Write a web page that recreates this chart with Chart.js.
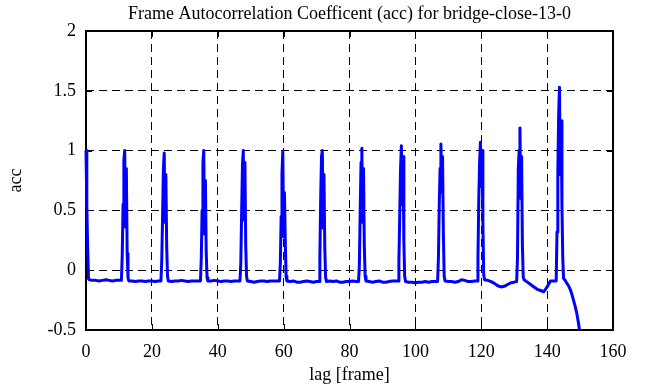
<!DOCTYPE html>
<html>
<head>
<meta charset="utf-8">
<script src="https://cdn.jsdelivr.net/npm/chart.js@4/dist/chart.umd.min.js"></script>
<style>
    html, body { margin: 0; padding: 0; background: #ffffff; }
    #wrap { width: 661px; height: 387px; }
</style>
</head>
<body>
<div id="wrap"><canvas id="acc-chart" width="661" height="387"></canvas></div>
<script>
// lag (frames) and autocorrelation, one row per 12-frame period
const lags = [
    0, 0.25, 0.5, 0.75, 1, 2, 3, 4, 5, 6, 7, 8, 9, 10,
    10.75, 11, 11.25, 11.5, 11.75, 12, 12.25, 12.5, 12.75, 13, 14, 15, 16, 17, 18, 19, 20, 21, 22,
    22.75, 23, 23.25, 23.5, 23.75, 24, 24.25, 24.5, 24.75, 25, 26, 27, 28, 29, 30, 31, 32, 33, 34,
    34.75, 35, 35.25, 35.5, 35.75, 36, 36.25, 36.5, 36.75, 37, 38, 39, 40, 41, 42, 43, 44, 45, 46,
    46.75, 47, 47.25, 47.5, 47.75, 48, 48.25, 48.5, 48.75, 49, 50, 51, 52, 53, 54, 55, 56, 57, 58,
    58.75, 59, 59.25, 59.5, 59.75, 60, 60.25, 60.5, 60.75, 61, 62, 63, 64, 65, 66, 67, 68, 69, 70,
    70.75, 71, 71.25, 71.5, 71.75, 72, 72.25, 72.5, 72.75, 73, 74, 75, 76, 77, 78, 79, 80, 81, 82,
    82.75, 83, 83.25, 83.5, 83.75, 84, 84.25, 84.5, 84.75, 85, 86, 87, 88, 89, 90, 91, 92, 93, 94,
    94.75, 95, 95.25, 95.5, 95.75, 96, 96.25, 96.5, 96.75, 97, 98, 99, 100, 101, 102, 103, 104, 105, 106,
    106.75, 107, 107.25, 107.5, 107.75, 108, 108.25, 108.5, 108.75, 109, 110, 111, 112, 113, 114, 115, 116, 117, 118,
    118.75, 119, 119.25, 119.5, 119.75, 120, 120.25, 120.5, 120.75, 121, 122, 123, 124, 125, 126, 127, 128, 129, 130,
    130.75, 131, 131.25, 131.5, 131.75, 132, 132.25, 132.5, 132.75, 133, 134, 135, 136, 137, 138, 139, 140, 141, 142,
    142.75, 143, 143.25, 143.5, 143.75, 144, 144.25, 144.5, 144.75, 145, 145.5, 146, 146.5, 147, 147.5, 148, 148.5, 149, 149.5, 150
];
const acc = [
    1.0, 0.55, 0.2, -0.07, -0.08, -0.085, -0.085, -0.09, -0.085, -0.08, -0.085, -0.09, -0.085, -0.085,
    -0.085, 0.12, 0.55, 0.92, 1.0, 0.36, 0.85, 0.14, -0.06, -0.09, -0.09, -0.095, -0.09, -0.09, -0.095, -0.09, -0.09, -0.095, -0.09,
    -0.09, 0.08, 0.45, 0.85, 0.98, 0.4, 0.8, 0.2, -0.05, -0.09, -0.095, -0.09, -0.09, -0.085, -0.09, -0.095, -0.09, -0.09, -0.09,
    -0.09, 0.1, 0.5, 0.9, 1.0, 0.3, 0.75, 0.15, -0.06, -0.09, -0.09, -0.085, -0.09, -0.095, -0.09, -0.09, -0.095, -0.09, -0.09,
    -0.09, 0.06, 0.48, 0.88, 1.0, 0.42, 0.9, 0.2, -0.05, -0.09, -0.095, -0.1, -0.095, -0.09, -0.09, -0.095, -0.09, -0.09, -0.09,
    -0.09, 0.06, 0.45, 0.81, 0.99, 0.28, 0.65, 0.25, -0.05, -0.09, -0.095, -0.09, -0.1, -0.1, -0.095, -0.09, -0.095, -0.1, -0.095,
    -0.095, 0.1, 0.6, 0.95, 1.0, 0.35, 0.8, 0.18, -0.06, -0.095, -0.09, -0.095, -0.09, -0.1, -0.1, -0.095, -0.095, -0.09, -0.095,
    -0.095, 0.05, 0.5, 0.9, 1.02, 0.4, 0.85, 0.2, -0.05, -0.09, -0.095, -0.1, -0.095, -0.09, -0.1, -0.1, -0.095, -0.09, -0.09,
    -0.09, 0.08, 0.45, 0.85, 1.04, 0.55, 0.95, 0.25, -0.05, -0.095, -0.1, -0.1, -0.105, -0.1, -0.1, -0.095, -0.1, -0.095, -0.095,
    -0.095, 0.1, 0.55, 0.85, 1.055, 0.65, 0.95, 0.3, -0.05, -0.09, -0.095, -0.095, -0.1, -0.095, -0.08, -0.085, -0.095, -0.095, -0.09,
    -0.09, 0.1, 0.6, 0.9, 1.07, 0.7, 1.0, 0.4, -0.04, -0.08, -0.085, -0.095, -0.11, -0.13, -0.14, -0.135, -0.12, -0.105, -0.1,
    -0.095, 0.1, 0.85, 1.0, 1.19, 0.6, 0.95, 0.2, -0.06, -0.08, -0.1, -0.12, -0.14, -0.16, -0.17, -0.18, -0.14, -0.09, -0.09,
    -0.09, 0.32, 0.82, 1.3, 1.53, 0.8, 1.25, 0.55, 0.1, -0.07, -0.085, -0.11, -0.13, -0.16, -0.2, -0.25, -0.3, -0.36, -0.44, -0.53
];
const xTicks = [0, 20, 40, 60, 80, 100, 120, 140, 160];
const yTicks = [-0.5, 0, 0.5, 1, 1.5, 2];

const chartTitle = 'Frame Autocorrelation Coefficent (acc) for bridge-close-13-0';
const xLabel = 'lag [frame]';
const yLabel = 'acc';

const serif = "'Liberation Serif', 'Times New Roman', serif";
Chart.defaults.color = '#000000';
Chart.defaults.font.family = serif;

// solid box round the plot plus inward tick marks on all four sides
const frame = {
    id: 'frame',
    beforeDatasetsDraw(chart) {
        const { ctx, chartArea: a, scales } = chart;
        const len = 6;
        ctx.save();
        ctx.strokeStyle = '#000000';
        ctx.lineWidth = 1;
        ctx.beginPath();
        xTicks.forEach(v => {
            const px = Math.round(scales.x.getPixelForValue(v)) + 0.5;
            ctx.moveTo(px, a.bottom); ctx.lineTo(px, a.bottom - len);
            ctx.moveTo(px, a.top); ctx.lineTo(px, a.top + len);
        });
        yTicks.forEach(v => {
            const py = Math.round(scales.y.getPixelForValue(v)) + 0.5;
            ctx.moveTo(a.left, py); ctx.lineTo(a.left + len, py);
            ctx.moveTo(a.right, py); ctx.lineTo(a.right - len, py);
        });
        ctx.stroke();
        ctx.lineWidth = 2;
        ctx.strokeRect(a.left, a.top, a.right - a.left, a.bottom - a.top);
        ctx.restore();
    }
};

const points = lags.map((lag, i) => ({ x: lag, y: acc[i] }));

new Chart(document.getElementById('acc-chart'), {
    type: 'line',
    data: {
        datasets: [{
            data: points,
            borderColor: '#0000ff',
            borderWidth: 3,
            borderJoinStyle: 'round',
            pointRadius: 0,
            tension: 0,
            fill: false,
            clip: { left: 4, top: 4, right: 4, bottom: 0 }
        }]
    },
    options: {
        responsive: false,
        animation: false,
        devicePixelRatio: 1,
        layout: { padding: { left: 0, right: 48, top: 0, bottom: 0 } },
        plugins: {
            legend: { display: false },
            tooltip: { enabled: false },
            title: {
                display: true,
                text: chartTitle,
                align: 'center',
                fullSize: false,
                color: '#000000',
                font: { family: serif, size: 18, weight: 'normal' },
                padding: { top: 3, bottom: 6.4 }
            }
        },
        scales: {
            x: {
                type: 'linear',
                min: 0,
                max: 160,
                afterBuildTicks: s => { s.ticks = xTicks.map(v => ({ value: v })); },
                afterFit: s => { s.height = 57; },
                ticks: {
                    font: { family: serif, size: 18 },
                    padding: 11,
                    maxRotation: 0,
                    callback: v => String(v)
                },
                grid: { color: '#000000', lineWidth: 1, drawTicks: false },
                border: { display: false, dash: [8, 5] },
                title: {
                    display: true,
                    text: xLabel,
                    font: { family: serif, size: 18 },
                    padding: { top: 0, bottom: 1 }
                }
            },
            y: {
                type: 'linear',
                min: -0.5,
                max: 2,
                afterBuildTicks: s => { s.ticks = yTicks.map(v => ({ value: v })); },
                afterFit: s => { s.width = 86; },
                ticks: {
                    font: { family: serif, size: 18 },
                    padding: 10,
                    callback: v => String(v)
                },
                grid: { color: '#000000', lineWidth: 1, drawTicks: false },
                border: { display: false, dash: [8, 5] },
                title: {
                    display: true,
                    text: yLabel,
                    font: { family: serif, size: 18 },
                    padding: { top: 5, bottom: 0 }
                }
            }
        }
    },
    plugins: [frame]
});
</script>
</body>
</html>
